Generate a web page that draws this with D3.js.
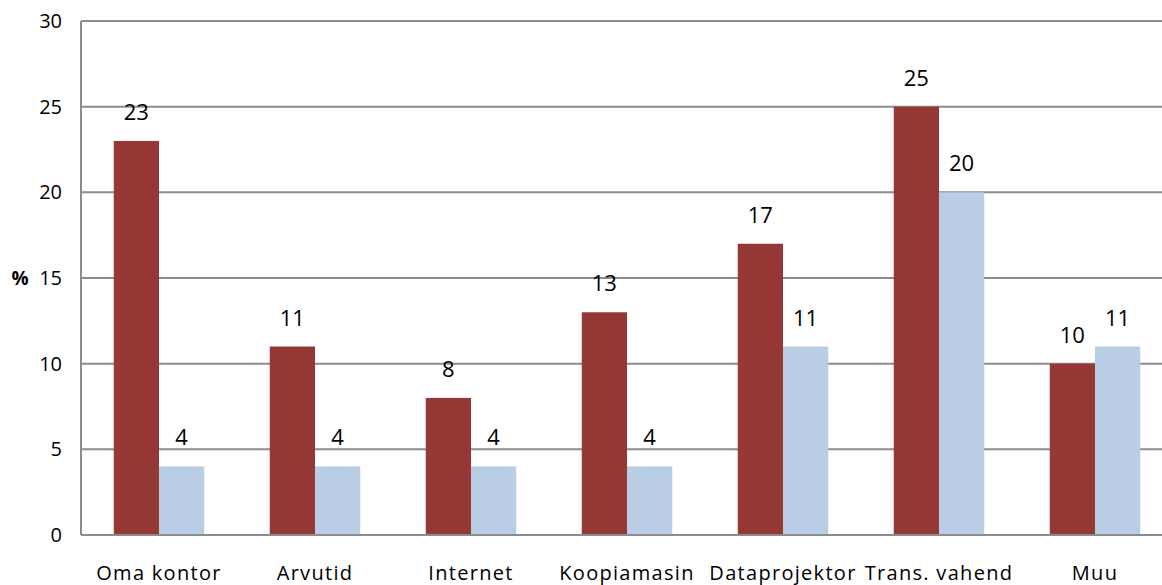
<!DOCTYPE html>
<html>
<head>
<meta charset="utf-8">
<script src="https://cdn.jsdelivr.net/npm/d3@7"></script>
<style>
  body { margin: 0; background: #fff; }
  text { font-family: "Open Sans", Lato, sans-serif; fill: #000; }
</style>
</head>
<body>
<svg id="chart" width="1162" height="585"></svg>
<script>
// chart values
let categories = ['Oma kontor', 'Arvutid', 'Internet', 'Koopiamasin', 'Dataprojektor', 'Trans. vahend', 'Muu'];
let seriesA = [23, 11, 8, 13, 17, 25, 10];
let seriesB = [4, 4, 4, 4, 11, 20, 11];
let yTicks = [0, 5, 10, 15, 20, 25, 30];

let COLORS = {
  a: '#953735',
  b: '#B9CDE5',
  grid: '#8c8c8c'
};

let margin = { left: 81, top: 21, bottom: 50 };
let bandW = 156;
let width = bandW * categories.length;
let height = 585 - margin.top - margin.bottom;

let svg = d3.select('#chart');
let g = svg.append('g').attr('transform', `translate(${margin.left},${margin.top})`);

let x = d3.scaleBand().domain(categories).range([0, width]).paddingInner(0.42).paddingOuter(0.21);
let xs = d3.scaleBand().domain(['a', 'b']).range([0, x.bandwidth()]);
let y = d3.scaleLinear().domain([0, 30]).range([height, 0]);

// gridlines
g.selectAll('.grid').data(yTicks).enter().append('line')
  .attr('x1', 0).attr('x2', width)
  .attr('y1', d => y(d)).attr('y2', d => y(d))
  .attr('stroke', COLORS.grid).attr('stroke-width', 2);

// y axis line
g.append('line')
  .attr('x1', 0).attr('x2', 0).attr('y1', y(30)).attr('y2', y(0))
  .attr('stroke', COLORS.grid).attr('stroke-width', 2);

// tick labels
g.selectAll('.ytick').data(yTicks).enter().append('text')
  .attr('x', -19).attr('y', d => y(d)).attr('dy', '0.35em')
  .style('text-anchor', 'end').style('font-size', '20px')
  .text(d => d);

svg.append('text')
  .attr('x', 20).attr('y', y(15) + margin.top).attr('dy', '0.35em')
  .style('text-anchor', 'middle').style('font-size', '19px').style('font-weight', 'bold')
  .text('%');

let rows = categories.map((c, i) => ({ cat: c, a: seriesA[i], b: seriesB[i] }));

let group = g.selectAll('.group').data(rows).enter().append('g')
  .attr('transform', d => `translate(${x(d.cat)},0)`);

['a', 'b'].forEach(key => {
  group.append('rect')
    .attr('x', xs(key)).attr('width', xs.bandwidth())
    .attr('y', d => y(d[key])).attr('height', d => y(0) - y(d[key]))
    .attr('fill', COLORS[key]);

  group.append('text')
    .attr('x', xs(key) + xs.bandwidth() / 2)
    .attr('y', d => y(d[key]) - 21)
    .style('text-anchor', 'middle').style('font-size', '22px')
    .text(d => d[key]);
});

// redraw baseline above bars
g.append('line')
  .attr('x1', 0).attr('x2', width).attr('y1', y(0)).attr('y2', y(0))
  .attr('stroke', COLORS.grid).attr('stroke-width', 2);

// category labels
g.selectAll('.xlabel').data(categories).enter().append('text')
  .attr('x', d => x(d) + x.bandwidth() / 2)
  .attr('y', height + 45)
  .style('text-anchor', 'middle').style('font-size', '20px').style('letter-spacing', '1.3px')
  .text(d => d);
</script>
</body>
</html>
